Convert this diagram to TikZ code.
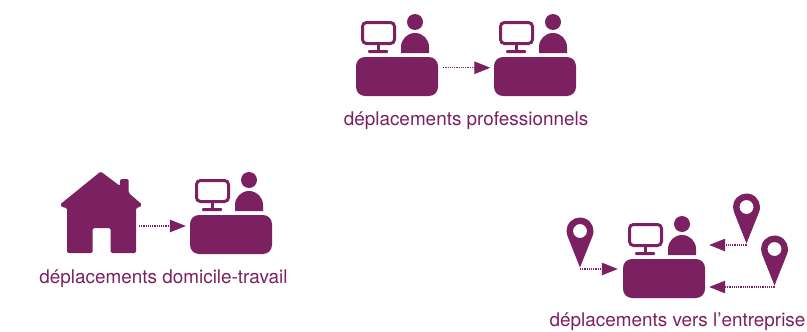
\documentclass[tikz,border=0pt]{standalone}
\usepackage{fontspec}
\setmainfont{TeX Gyre Heros}
\usetikzlibrary{arrows.meta}
\definecolor{plum}{HTML}{7B2060}
\tikzset{
  deskbox/.style={fill=plum,rounded corners=9pt,minimum width=82pt,minimum height=39pt,inner sep=0pt},
  flow/.style={draw=plum,line width=1.3pt,dash pattern=on 1.2pt off 1pt,-{Triangle[length=16pt,width=12.5pt]}},
  caption/.style={text=plum,font=\fontsize{18.9}{20}\selectfont,inner sep=0pt},
  pics/station/.style={code={
    \node[deskbox] (-box) at (41,19.5) {};
    \draw[plum,line width=3pt,rounded corners=4pt] (6.5,-34.5) rectangle (38.5,-13.5);
    \fill[plum] (20.5,-12) rectangle (23.5,-6);
    \fill[plum,rounded corners=1pt] (12,-7) rectangle (32,-4);
    \fill[plum] (59,-35) circle[radius=8];
    \fill[plum] (45,-4) -- (45,-10) arc[start angle=180,end angle=360,radius=14] -- (73,-4) -- cycle;
  }},
  pics/pin/.style={code={
    \coordinate (-tip) at (0,0);
    \fill[plum,even odd rule] (0,-1.5) -- (12.55,-33) arc[start angle=21.7,end angle=-201.7,radius=13.5] -- cycle
      (0,-38) circle[radius=7];
  }}
}
\begin{document}
\begin{tikzpicture}[x=1pt,y=-1pt]
  \useasboundingbox (0,0) rectangle (807,332);
  % professionnels
  \pic (deskA) at (356,57) {station};
  \pic (deskB) at (494,57) {station};
  \node[caption] (capA) at (466,121) {déplacements professionnels};
  \draw[flow,shorten <=5pt,shorten >=3.5pt] (deskA-box.12) -- (deskB-box.168);
  % domicile-travail
  \fill[plum,rounded corners=1.5pt] (100.7,171.5) -- (120,186) -- (120,179) -- (128.7,179) -- (128.7,193) -- (142,204.5)
    -- (139.5,207.5) -- (136,207.5) -- (136,253) -- (110.7,253) -- (110.7,228) -- (92.7,228) -- (92.7,253)
    -- (67,253) -- (67,207.5) -- (62.5,207.5) -- (60,204.5) -- cycle;
  \coordinate (home) at (139,226);
  \pic (deskC) at (190,215) {station};
  \node[caption] (capB) at (163.5,279) {déplacements domicile-travail};
  \draw[flow,shorten >=4pt] (home) -- (home -| deskC-box.west);
  % vers l'entreprise
  \pic (deskD) at (623,259) {station};
  \pic (pinA) at (580,269) {pin};
  \pic (pinB) at (746.5,245) {pin};
  \pic (pinC) at (774.5,287) {pin};
  \node[caption] (capC) at (677.5,322) {déplacements vers l’entreprise};
  \draw[flow,shorten >=5pt] (pinA-tip) -- (pinA-tip -| deskD-box.west);
  \draw[flow,shorten >=4pt] (pinB-tip) -- (pinB-tip -| deskD-box.east);
  \draw[flow,shorten >=4pt] (pinC-tip) -- (pinC-tip -| deskD-box.east);
\end{tikzpicture}
\end{document}
